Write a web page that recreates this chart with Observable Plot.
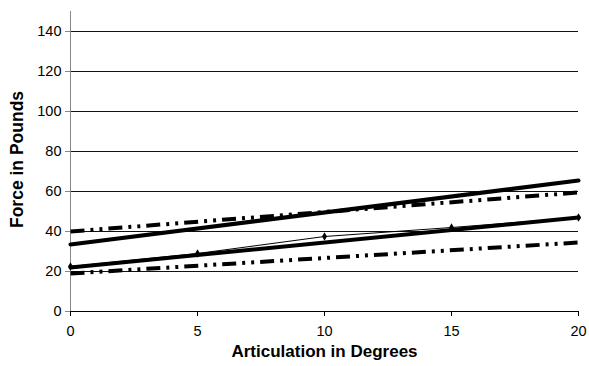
<!DOCTYPE html>
<html>
<head>
<meta charset="utf-8">
<script src="https://cdn.jsdelivr.net/npm/d3@7"></script>
<script src="https://cdn.jsdelivr.net/npm/@observablehq/plot@0.6"></script>
<style>
  html, body { margin: 0; padding: 0; background: #fff; }
</style>
</head>
<body>
<div id="chart"></div>
<script>
// Measured data (thin line with diamond markers)
const degrees = [0, 5, 10, 15, 20];
const force = [22.5, 29, 37.5, 42, 47];

// Straight lines (endpoints at 0 and 20 degrees)
const lineX = [0, 20];
const upperFit = [33.5, 65.5];
const lowerFit = [22, 47];
const upperBand = [40, 59.5];
const lowerBand = [19, 34.5];

const yTicks = [0, 20, 40, 60, 80, 100, 120, 140];
const xTicks = [0, 5, 10, 15, 20];
const xTitle = "Articulation in Degrees";
const yTitle = "Force in Pounds";

const pts = degrees.map((d, i) => ({x: d, y: force[i]}));
const mk = (ys) => lineX.map((x, i) => ({x, y: ys[i]}));

const dashDotDot = "14,6,3,6,3,6";

const chart = Plot.plot({
  width: 589,
  height: 366,
  marginLeft: 70,
  marginRight: 11,
  marginTop: 11,
  marginBottom: 55,
  style: {fontFamily: "'Liberation Sans', Arial, sans-serif", fontSize: "14.5px", color: "#000", background: "#fff"},
  x: {domain: [0, 20]},
  y: {domain: [0, 150]},
  marks: [
    Plot.ruleY(yTicks.filter(d => d > 0), {stroke: "#111", strokeWidth: 1}),
    Plot.axisY({ticks: yTicks, tickSize: 5, tickPadding: 4, label: null, stroke: "#888"}),
    Plot.axisX({ticks: xTicks, tickSize: 5, tickPadding: 9, label: null, tickFormat: d => String(d)}),
    Plot.text([yTitle], {frameAnchor: "left", textAnchor: "middle", dx: -53, dy: -2, rotate: -90, fontWeight: "bold", fontSize: 17.5, fill: "#000"}),
    Plot.text([xTitle], {frameAnchor: "bottom", textAnchor: "middle", dy: 45, fontWeight: "bold", fontSize: 17, fill: "#000"}),
    Plot.ruleX([0], {y1: 0, y2: 150, stroke: "#888", strokeWidth: 1}),
    Plot.ruleY([0], {stroke: "#000", strokeWidth: 1}),
    Plot.line(pts, {x: "x", y: "y", stroke: "#000", strokeWidth: 1}),
    Plot.dot(pts, {x: "x", y: "y", symbol: "diamond", r: 2.6, fill: "#000"}),
    Plot.line(mk(upperBand), {x: "x", y: "y", stroke: "#000", strokeWidth: 4, strokeDasharray: dashDotDot, strokeLinecap: "butt"}),
    Plot.line(mk(lowerBand), {x: "x", y: "y", stroke: "#000", strokeWidth: 4, strokeDasharray: dashDotDot, strokeLinecap: "butt"}),
    Plot.line(mk(upperFit), {x: "x", y: "y", stroke: "#000", strokeWidth: 4}),
    Plot.line(mk(lowerFit), {x: "x", y: "y", stroke: "#000", strokeWidth: 4})
  ]
});
document.getElementById("chart").appendChild(chart);
</script>
</body>
</html>
